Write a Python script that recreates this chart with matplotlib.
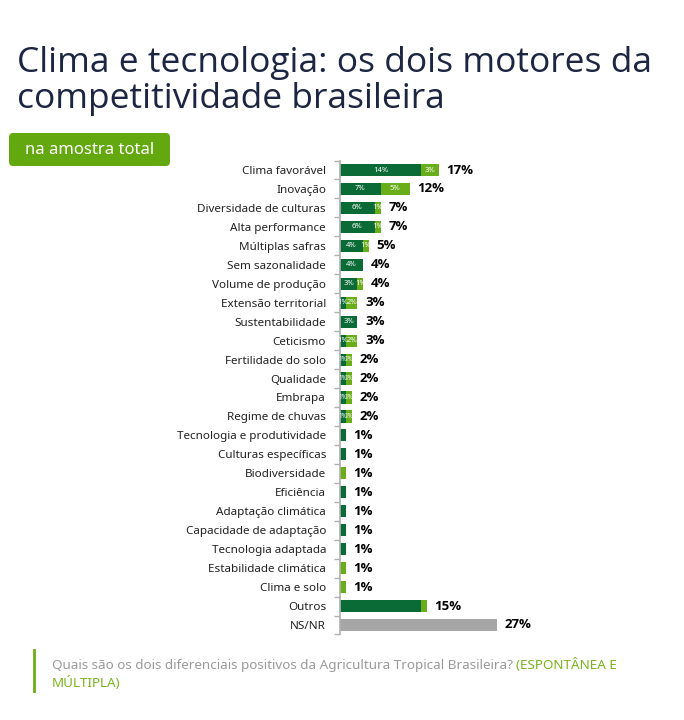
import numpy as np
import matplotlib
matplotlib.use('Agg')
import matplotlib.pyplot as plt
from matplotlib.patches import FancyBboxPatch

# ── DATA ─────────────────────────────────────────────────────────────────────
CATEGORIES = [
    "Clima favorável", "Inovação", "Diversidade de culturas", "Alta performance",
    "Múltiplas safras", "Sem sazonalidade", "Volume de produção",
    "Extensão territorial", "Sustentabilidade", "Ceticismo", "Fertilidade do solo",
    "Qualidade", "Embrapa", "Regime de chuvas", "Tecnologia e produtividade",
    "Culturas específicas", "Biodiversidade", "Eficiência", "Adaptação climática",
    "Capacidade de adaptação", "Tecnologia adaptada", "Estabilidade climática",
    "Clima e solo", "Outros", "NS/NR",
]
FIRST  = [14, 7, 6, 6, 4, 4, 3, 1, 3, 1, 1, 1, 1, 1, 1, 1, 0, 1, 1, 1, 1, 0, 0, 14, 0]
SECOND = [3, 5, 1, 1, 1, 0, 1, 2, 0, 2, 1, 1, 1, 1, 0, 0, 1, 0, 0, 0, 0, 1, 1, 1, 0]
NSNR   = [0] * 24 + [27]
TOTALS = [17, 12, 7, 7, 5, 4, 4, 3, 3, 3, 2, 2, 2, 2, 1, 1, 1, 1, 1, 1, 1, 1, 1, 15, 27]

DARK  = "#0a6b37"
LIGHT = "#6aad1a"
GRAY  = "#a6a6a6"
NAVY  = "#1c2541"

plt.rcParams['font.family'] = ['Noto Sans', 'DejaVu Sans']

W, H = 684, 720
fig = plt.figure(figsize=(W / 100, H / 100), dpi=100)

def fx(px):
    return px / W

def fy(py):
    return 1 - py / H

# title
fig.text(fx(17), fy(46), "Clima e tecnologia: os dois motores da\ncompetitividade brasileira",
         fontsize=25.5, color=NAVY, va='top', ha='left', linespacing=1.08,
         family=['Open Sans', 'DejaVu Sans'], fontweight='medium')

# badge
badge = FancyBboxPatch((fx(9), fy(166)), fx(161), 33 / H,
                       boxstyle="round,pad=0,rounding_size=0.006",
                       transform=fig.transFigure, facecolor="#63a80f", edgecolor='none')
fig.patches.append(badge)
fig.text(fx(90), fy(150), "na amostra total", fontsize=12, color='white',
         ha='center', va='center')

# chart
n = len(CATEGORIES)
row_h = (625 - 170) / (n - 1)
top = 170 - row_h / 2
bot = 625 + row_h / 2
px_per_pct = 5.8
ax_w = 200
ax = fig.add_axes([fx(340), fy(bot), ax_w / W, (bot - top) / H])

y = np.arange(n)
ax.barh(y, FIRST, height=0.64, color=DARK)
ax.barh(y, SECOND, left=FIRST, height=0.64, color=LIGHT)
ax.barh(y, NSNR, height=0.64, color=GRAY)

for i in range(n):
    if i < 14:
        fs = 5.5 if TOTALS[i] > 2 else 4.5
        if FIRST[i] > 0:
            ax.text(FIRST[i] / 2, i, f"{FIRST[i]}%", color='white', fontsize=fs,
                    ha='center', va='center')
        if SECOND[i] > 0:
            ax.text(FIRST[i] + SECOND[i] / 2, i, f"{SECOND[i]}%", color='white',
                    fontsize=fs, ha='center', va='center')
    ax.text(TOTALS[i] + 1.3, i, f"{TOTALS[i]}%", fontsize=9.5, fontweight='bold',
            color='black', ha='left', va='center',
            family=['Open Sans', 'DejaVu Sans'])

ax.set_ylim(n - 0.5, -0.5)
ax.set_xlim(0, ax_w / px_per_pct)
ax.set_yticks(y)
ax.set_yticklabels(CATEGORIES, fontsize=8.4, color='#222222')
ax.tick_params(axis='y', which='major', length=0, pad=10)
ax.set_yticks(np.arange(-0.5, n, 1), minor=True)
ax.tick_params(axis='y', which='minor', length=4, color='#b0b0b0', width=1)
ax.set_xticks([])
for s in ['top', 'right', 'bottom']:
    ax.spines[s].set_visible(False)
ax.spines['left'].set_color('#b0b0b0')
ax.spines['left'].set_linewidth(1.2)

# footer
fig.add_artist(plt.Line2D([fx(34), fx(34)], [fy(650), fy(691)],
                          transform=fig.transFigure, color="#6aad1a", lw=2))
fig.text(fx(52), fy(665), "Quais são os dois diferenciais positivos da Agricultura Tropical Brasileira?",
         fontsize=9.7, color='#9a9a9a', ha='left', va='center')
fig.text(fx(516), fy(665), "(ESPONTÂNEA E", fontsize=9.7, color="#7ab51d",
         ha='left', va='center')
fig.text(fx(52), fy(683), "MÚLTIPLA)", fontsize=9.7, color="#7ab51d",
         ha='left', va='center')

fig.savefig("out.png", dpi=100)
